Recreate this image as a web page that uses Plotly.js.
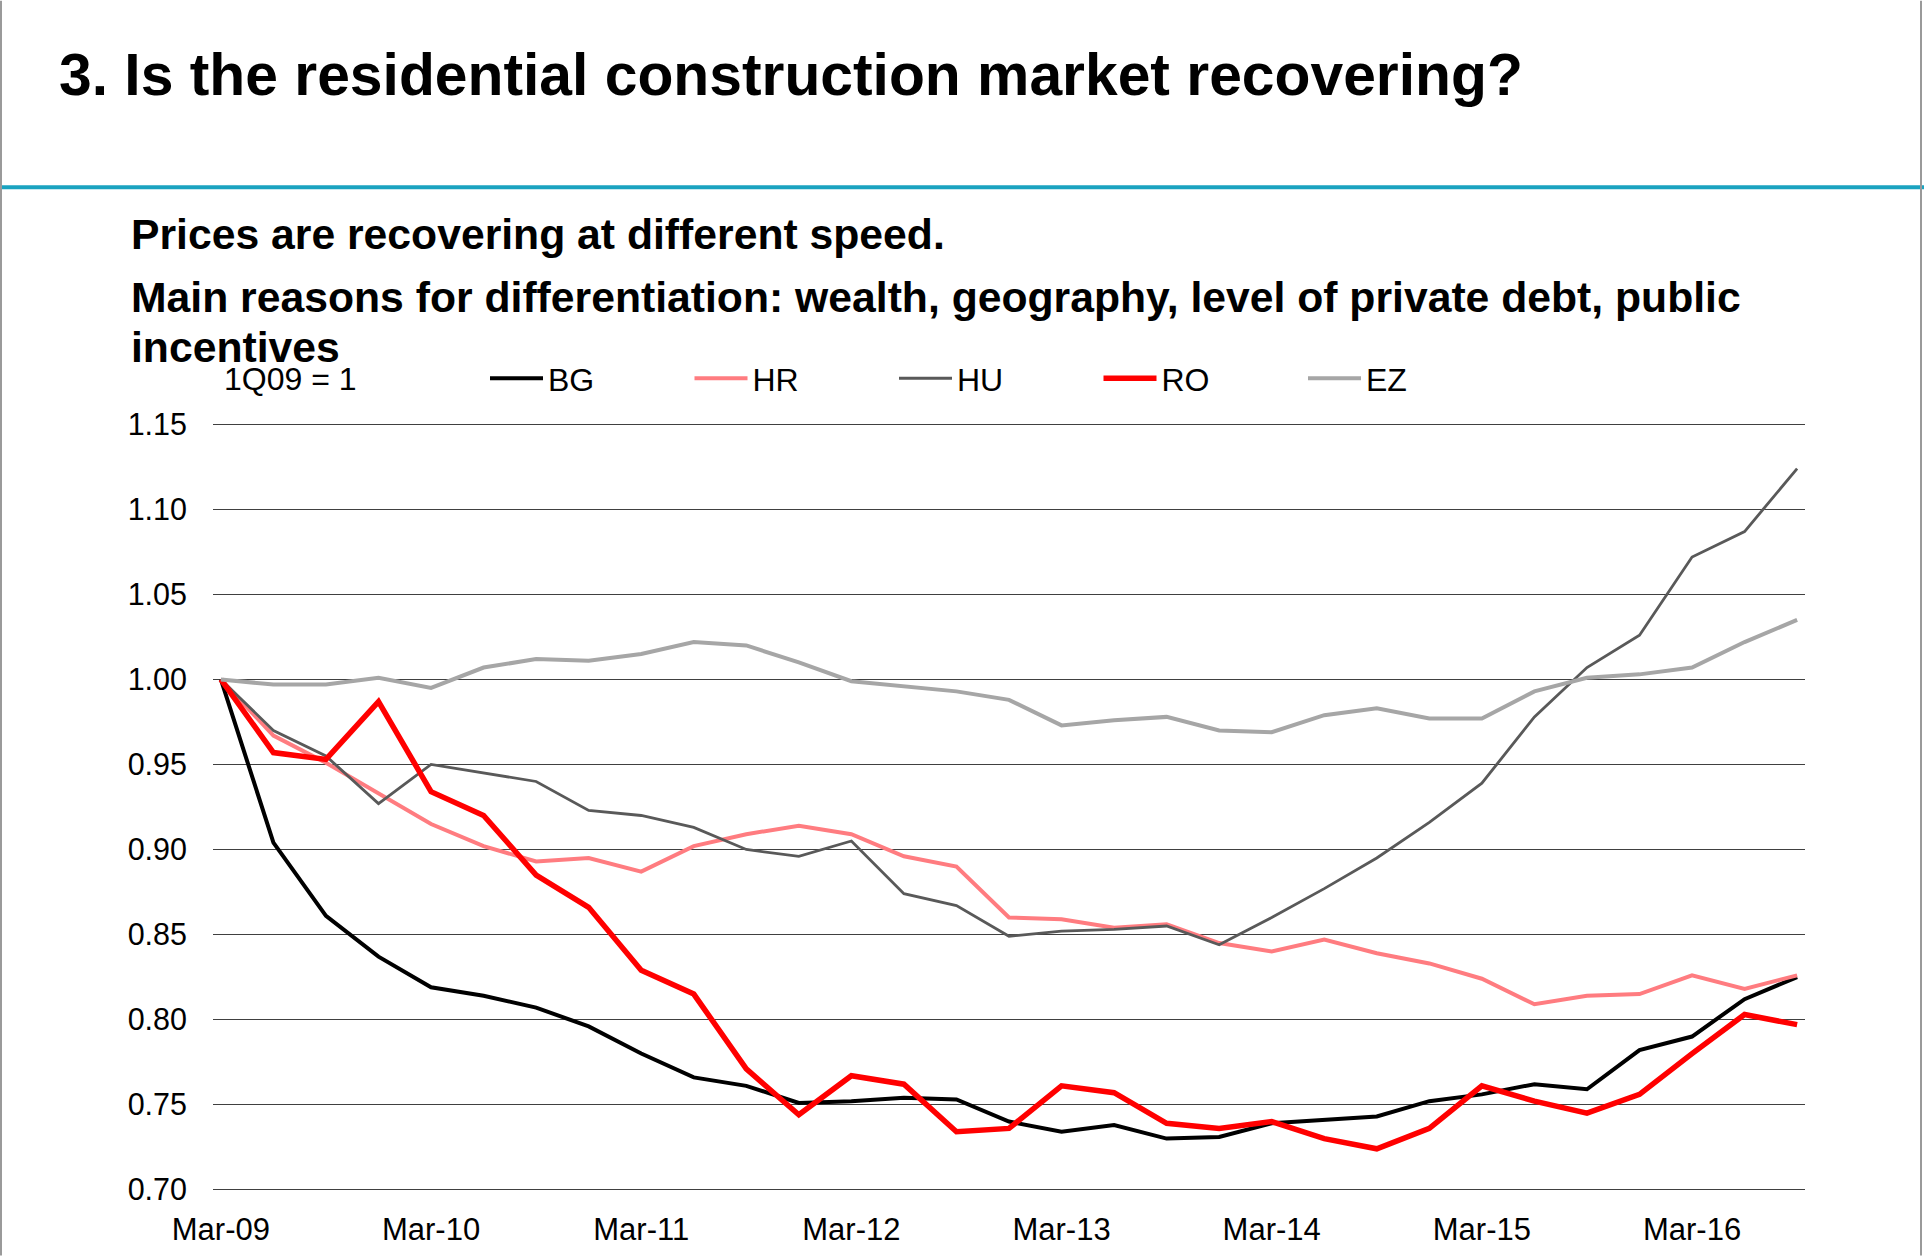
<!DOCTYPE html>
<html>
<head>
<meta charset="utf-8">
<script src="https://cdn.plot.ly/plotly-3.0.1.min.js"></script>
<style>
  html, body { margin: 0; padding: 0; background: #fff; }
  #chart { width: 1924px; height: 1256px; }
</style>
</head>
<body>
<div id="chart"></div>
<script>
// Quarterly categories, 1Q09 = 1
const quarters = [
  "Mar-09","Jun-09","Sep-09","Dec-09",
  "Mar-10","Jun-10","Sep-10","Dec-10",
  "Mar-11","Jun-11","Sep-11","Dec-11",
  "Mar-12","Jun-12","Sep-12","Dec-12",
  "Mar-13","Jun-13","Sep-13","Dec-13",
  "Mar-14","Jun-14","Sep-14","Dec-14",
  "Mar-15","Jun-15","Sep-15","Dec-15",
  "Mar-16","Jun-16","Sep-16"
];
const tickLabels = ["Mar-09","Mar-10","Mar-11","Mar-12","Mar-13","Mar-14","Mar-15","Mar-16"];

const BG = [1.000,0.904,0.861,0.837,0.819,0.814,0.807,0.796,0.780,0.766,0.761,0.751,
            0.752,0.754,0.753,0.740,0.734,0.738,0.730,0.731,0.739,0.741,0.743,0.752,
            0.756,0.762,0.759,0.782,0.790,0.812,0.825];
const HR = [1.000,0.967,0.951,0.933,0.915,0.902,0.893,0.895,0.887,0.902,0.909,0.914,
            0.909,0.896,0.890,0.860,0.859,0.854,0.856,0.845,0.840,0.847,0.839,0.833,
            0.824,0.809,0.814,0.815,0.826,0.818,0.826];
const HU = [1.000,0.970,0.955,0.927,0.950,0.945,0.940,0.923,0.920,0.913,0.900,0.896,
            0.905,0.874,0.867,0.849,0.852,0.853,0.855,0.844,0.860,0.877,0.895,0.916,
            0.939,0.978,1.007,1.026,1.072,1.087,1.124];
const RO = [1.000,0.957,0.953,0.987,0.934,0.920,0.885,0.866,0.829,0.815,0.771,0.744,
            0.767,0.762,0.734,0.736,0.761,0.757,0.739,0.736,0.740,0.730,0.724,0.736,
            0.761,0.752,0.745,0.756,0.780,0.803,0.797];
const EZ = [1.000,0.997,0.997,1.001,0.995,1.007,1.012,1.011,1.015,1.022,1.020,1.010,
            0.999,0.996,0.993,0.988,0.973,0.976,0.978,0.970,0.969,0.979,0.983,0.977,
            0.977,0.993,1.001,1.003,1.007,1.022,1.035];

const seriesNames = ["BG","HR","HU","RO","EZ"];
const seriesData = [BG, HR, HU, RO, EZ];
const seriesColors = ["#000000","#FF7C80","#595959","#FF0000","#A6A6A6"];
const seriesWidths = [4, 4, 2.8, 5.5, 4];

const traces = seriesNames.map((n, k) => ({
  type: "scatter",
  mode: "lines",
  name: n,
  x: quarters,
  y: seriesData[k],
  line: { color: seriesColors[k], width: seriesWidths[k] }
}));

// value range 0.70..1.15 maps to pixels 1190..424; axis extended slightly
const yLo = 0.698, yHi = 1.152;
const pxPerUnit = (1190 - 424) / 0.45;
const L = 213, R = 1805;
const T = 424 - (yHi - 1.15) * pxPerUnit;
const B = 1190 + (0.70 - yLo) * pxPerUnit;
const px = v => (v - L) / (R - L);
const py = v => (B - v) / (B - T);

const font = "Liberation Sans, Arial, sans-serif";

const layout = {
  width: 1924,
  height: 1256,
  margin: { l: L, r: 1924 - R, t: T, b: 1256 - B, pad: 0 },
  paper_bgcolor: "#ffffff",
  plot_bgcolor: "#ffffff",
  font: { family: font, color: "#000000", size: 30 },
  title: {
    text: "<b>3. Is the residential construction market recovering?</b>",
    xref: "container", yref: "container",
    x: 59 / 1924, xanchor: "left",
    y: 1 - 74 / 1256, yanchor: "middle",
    font: { family: font, size: 58.8, color: "#000000" }
  },
  showlegend: true,
  legend: {
    orientation: "h",
    x: px(485), xanchor: "left",
    y: py(378), yanchor: "middle",
    itemwidth: 53,
    entrywidth: 136.5,
    entrywidthmode: "pixels",
    font: { family: font, size: 32, color: "#000000" },
    bgcolor: "rgba(0,0,0,0)",
    borderwidth: 0,
    itemclick: false
  },
  xaxis: {
    type: "category",
    categoryorder: "array",
    categoryarray: quarters,
    range: [-0.15, 30.15],
    tickmode: "array",
    tickvals: tickLabels,
    ticktext: tickLabels,
    showgrid: false,
    zeroline: false,
    showline: false,
    ticks: "",
    ticklabelstandoff: 15,
    tickfont: { family: font, size: 31, color: "#000000" }
  },
  yaxis: {
    range: [yLo, yHi],
    tickmode: "linear",
    tick0: 0.7,
    dtick: 0.05,
    tickformat: ".2f",
    showgrid: true,
    gridcolor: "#404040",
    gridwidth: 1.8,
    zeroline: false,
    showline: false,
    ticks: "",
    ticklabelstandoff: 25,
    tickfont: { family: font, size: 30.5, color: "#000000" }
  },
  shapes: [
    { type: "line", xref: "paper", yref: "paper",
      x0: px(0), x1: px(1924), y0: py(186.5), y1: py(186.5),
      line: { color: "#1AA3C0", width: 4 } },
    { type: "line", xref: "paper", yref: "paper",
      x0: px(1), x1: px(1), y0: py(0), y1: py(1256),
      line: { color: "#9A9A9A", width: 2 } },
    { type: "line", xref: "paper", yref: "paper",
      x0: px(1921), x1: px(1921), y0: py(0), y1: py(1256),
      line: { color: "#9A9A9A", width: 2 } }
  ],
  annotations: [
    { text: "<b>Prices are recovering at different speed.</b>",
      xref: "paper", yref: "paper", x: px(128.5), y: py(233),
      xanchor: "left", yanchor: "middle", showarrow: false,
      font: { family: font, size: 42.7, color: "#000000" } },
    { text: "<b>Main reasons for differentiation: wealth, geography, level of private debt, public</b>",
      xref: "paper", yref: "paper", x: px(128.5), y: py(296),
      xanchor: "left", yanchor: "middle", showarrow: false,
      font: { family: font, size: 42.7, color: "#000000" } },
    { text: "<b>incentives</b>",
      xref: "paper", yref: "paper", x: px(128.5), y: py(347),
      xanchor: "left", yanchor: "middle", showarrow: false,
      font: { family: font, size: 42.7, color: "#000000" } },
    { text: "1Q09 = 1",
      xref: "paper", yref: "paper", x: px(222), y: py(379),
      xanchor: "left", yanchor: "middle", showarrow: false,
      font: { family: font, size: 32, color: "#000000" } }
  ]
};

Plotly.newPlot("chart", traces, layout, { displayModeBar: false, staticPlot: true });
</script>
</body>
</html>
